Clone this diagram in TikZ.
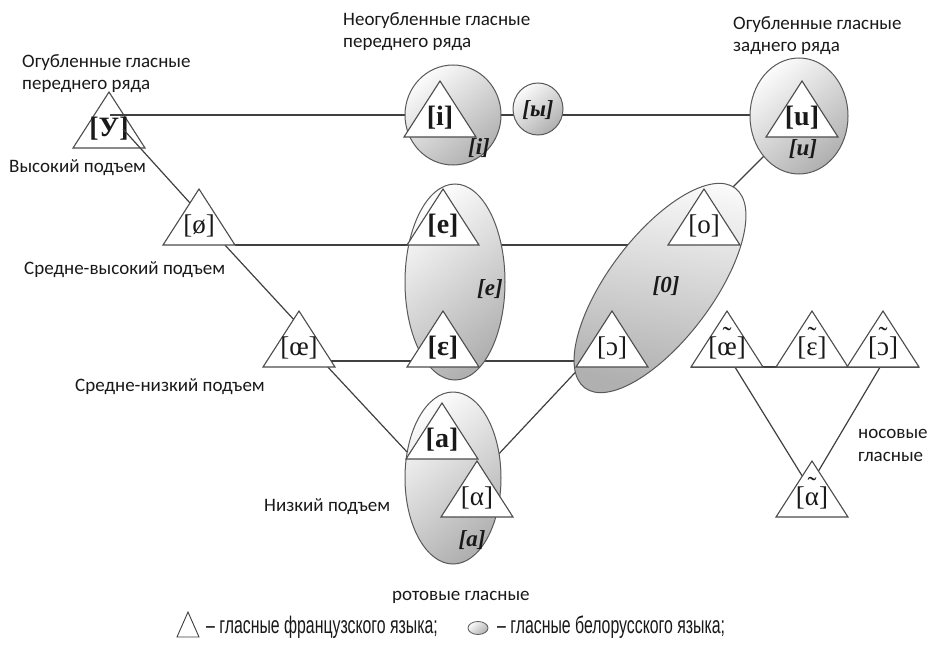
\documentclass[tikz,border=0pt]{standalone}
\usepackage{fontspec}
\setmainfont{Carlito}
\newfontfamily\ipafont{Liberation Serif}
\newfontfamily\legendfont[FakeStretch=0.66]{Liberation Sans}
\usetikzlibrary{shapes.geometric,calc}
\pgfdeclarelayer{back}
\pgfdeclarelayer{lines}
\pgfsetlayers{back,lines,main}

\newcommand\nasv[1]{\ooalign{#1\cr\hidewidth\raisebox{0.36em}{˜}\hidewidth\cr}}

\tikzset{
  lbl/.style={anchor=base west, inner sep=0, font=\fontsize{19}{22}\selectfont, text=black!90},
  ipab/.style={inner sep=0, font=\ipafont\bfseries\fontsize{28}{28}\selectfont, text=black!90},
  ipar/.style={inner sep=0, font=\ipafont\fontsize{27}{27}\selectfont, text=black!90},
  ipai/.style={inner sep=0, font=\ipafont\bfseries\itshape\fontsize{23}{23}\selectfont, text=black!90},
  oval/.style={ellipse, draw=black!65, line width=1pt, inner sep=0, top color=gray!3, bottom color=gray!62, shading angle=40},
  tribox/.style={draw=black!70, line width=1.1pt, fill=white, line join=miter},
  conn/.style={draw=black!75, line width=1.2pt},
  legtxt/.style={anchor=west, inner sep=0, font=\legendfont\fontsize{24}{24}\selectfont, text=black!90},
}

% triangle: name, apex x, apex y, text style, text
\newcommand\vtri[5]{%
  \draw[tribox] (#2,#3) -- ++(-36,56) -- ++(72,0) -- cycle;
  \coordinate (#1-a) at (#2,#3);
  \coordinate (#1-l) at (#2-36,#3+56);
  \coordinate (#1-r) at (#2+36,#3+56);
  \node[#4] (#1) at (#2,#3+37) {#5};
}

\begin{document}
\begin{tikzpicture}[x=1pt,y=-1pt]
\useasboundingbox (0,0) rectangle (927,661);
\begin{pgfonlayer}{back}
\fill[white] (0,0) rectangle (927,661);
\vtri{ytri}{109}{92}{ipab}{[У]}
\end{pgfonlayer}

% ---- ellipses (Belarusian vowels)
\node[oval, minimum width=96pt, minimum height=100pt] (iell) at (453,115) {};
\node[oval, minimum width=50pt, minimum height=52pt] (yell) at (538,109) {};
\node[oval, minimum width=98pt, minimum height=116pt] (uell) at (799,116) {};
\node[oval, minimum width=100pt, minimum height=196pt] (eell) at (455,282) {};
\node[oval, minimum width=250pt, minimum height=104pt, rotate=53, shading angle=-10] (oell) at (660,288) {};
\node[oval, minimum width=96pt, minimum height=172pt] (aell) at (453,478) {};

% ---- French vowels (triangles)
\vtri{otri}{704}{189}{ipar}{[o]}
\vtri{cotri}{612}{311}{ipar}{[ɔ]}
\vtri{itri}{440}{81}{ipab}{[i]}
\vtri{utri}{802}{81}{ipab}{[u]}
\vtri{etri}{443}{189}{ipab}{[e]}
\vtri{eptri}{443}{311}{ipab}{[ε]}
\vtri{atri}{442}{403}{ipab}{[a]}
\vtri{altri}{477}{461}{ipar}{[α]}
\vtri{oetri}{199}{189}{ipar}{[ø]}
\vtri{oeotri}{299}{311}{ipar}{[œ]}
\vtri{noe}{727}{311}{ipar}{[\nasv{œ}]}
\vtri{nep}{812}{311}{ipar}{[\nasv{ε}]}
\vtri{nco}{883}{311}{ipar}{[\nasv{ɔ}]}
\vtri{nal}{812}{461}{ipar}{[\nasv{α}]}

% ---- Belarusian italic labels
\node[ipai] (ib) at (479,148) {[i]};
\node[ipai] (yb) at (538,110) {[ы]};
\node[ipai] (ub) at (803,149) {[u]};
\node[ipai] (eb) at (490,289) {[e]};
\node[ipai] (ob) at (666,286) {[0]};
\node[ipai] (ab) at (472,540) {[a]};

% ---- named connector ends
\coordinate (yl) at (110,115);
\coordinate (yd) at (123,129);
\coordinate (d3e) at (407,452);
\coordinate (d4s) at (495,458);
\coordinate (d4e) at (585,362);
\coordinate (d5s) at (765,155);
\coordinate (d5e) at (730,190);
\coordinate (l3s) at (331,361);

% ---- connectors
\begin{pgfonlayer}{lines}
\draw[conn] (yl) -- (yl -| uell.west);
\draw[conn] (yd) -- ($(oetri-a)!0.25!(oetri-l)$);
\draw[conn] ($(oetri-l)!0.86!(oetri-r)$) -- ($(oeotri-a)!0.15!(oeotri-l)$);
\draw[conn] ($(oeotri-l)!0.9!(oeotri-r)$) -- (d3e);
\draw[conn] (oetri-r) -- (oetri-r -| otri-l);
\draw[conn] (l3s) -- (l3s -| cotri-l);
\draw[conn] (d4s) -- (d4e);
\draw[conn] (d5s) -- (d5e);
\draw[conn] (noe-l) -- (nco-r);
\draw[conn] ($(noe-l)!0.61!(noe-r)$) -- ($(nal-a)!0.27!(nal-l)$);
\draw[conn] ($(nco-l)!0.46!(nco-r)$) -- ($(nal-a)!0.18!(nal-r)$);
\end{pgfonlayer}

% ---- text labels
\node[lbl] (t1) at (22,67) {Огубленные гласные};
\node[lbl] (t1b) at (22,89) {переднего ряда};
\node[lbl] (t2) at (343,26) {Неогубленные гласные};
\node[lbl] (t2b) at (343,48) {переднего ряда};
\node[lbl] (t3) at (733,30) {Огубленные гласные};
\node[lbl] (t3b) at (733,52) {заднего ряда};
\node[lbl] (h1) at (9,172) {Высокий подъем};
\node[lbl] (h2) at (24,274) {Средне-высокий подъем};
\node[lbl] (h3) at (75,391) {Средне-низкий подъем};
\node[lbl] (h4) at (264,511) {Низкий подъем};
\node[lbl] (rot) at (392,600) {ротовые гласные};
\node[lbl] (nas) at (858,438) {носовые};
\node[lbl] (nasb) at (858,461) {гласные};

% ---- legend
\draw[draw=black!75, line width=0.9pt, fill=white] (188,612) -- (177,637) -- (199,637) -- cycle;
\coordinate (legtri) at (188,626);
\node[legtxt] (lg1) at (206,627) {– гласные французского языка;};
\node[oval, minimum width=20pt, minimum height=13pt, line width=0.8pt] (legell) at (478,628) {};
\node[legtxt] (lg2) at (497,627) {– гласные белорусского языка;};
\end{tikzpicture}
\end{document}
